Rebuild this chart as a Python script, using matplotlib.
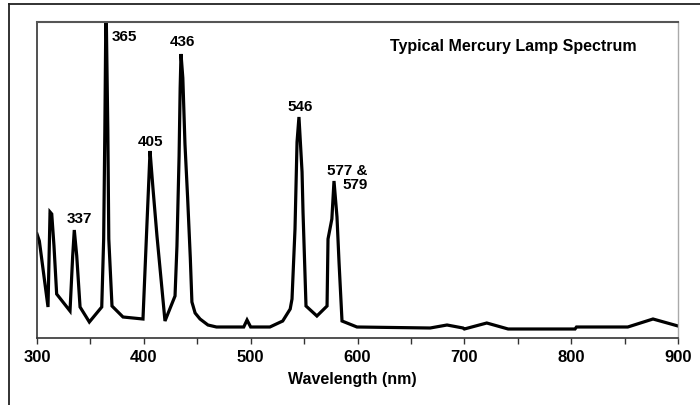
import matplotlib
matplotlib.use("Agg")
import matplotlib.pyplot as plt
from matplotlib.lines import Line2D

plt.rcParams['font.family'] = ['Liberation Sans', 'DejaVu Sans']

# Spectrum trace (wavelength nm, relative intensity)
wavelength = [300, 302.2, 310.3, 312.2, 313.8, 315.9, 318.4, 330.9, 333.4, 334.9,
              337.2, 340.3, 349, 360.6, 362.4, 363.5, 364.6, 366.3, 367.2, 370.2,
              380.5, 399.2, 403.0, 404.8, 405.8, 408.6, 412.3, 419.8, 429.2, 431,
              433, 434, 434.8, 436.5, 438.5, 441, 443.5, 445, 448, 452.6,
              460, 468, 490, 493.5, 496.6, 500, 518, 530, 537, 538.7,
              541.5, 543.4, 545.2, 548.1, 549, 551.8, 562, 571.5, 572.4, 576,
              578, 580.8, 582.7, 585.5, 599.5, 668, 683.8, 698.8, 700, 721,
              741, 803.6, 805, 853, 876.6, 900]
intensity = [104, 97, 31, 126, 124, 92, 44, 27, 82, 108,
             82, 31, 16, 31, 99, 207, 340, 207, 99, 32,
             21, 19, 116, 161, 187, 149, 102, 17, 42, 92,
             182, 250, 284, 260, 194, 140, 80, 36, 25, 19,
             13, 11, 11, 11, 18, 11, 11, 17, 29, 39,
             109, 196, 221, 166, 126, 32, 22, 32, 99, 119,
             157, 121, 76, 17, 11, 10, 13, 10, 9, 15,
             9, 9, 11, 11, 19, 12]

peak_labels = ["337", "365", "405", "436", "546", "577 &\n579"]
peak_label_wl = [339.5, 370.2, 405.8, 436.5, 546, 609.5]
peak_label_y = [120, 302, 197, 297, 232, 161]
peak_label_ha = ["center", "left", "center", "center", "center", "right"]

title = "Typical Mercury Lamp Spectrum"
xlabel = "Wavelength (nm)"
xticks_major = [300, 400, 500, 600, 700, 800, 900]
xticks_all = list(range(300, 901, 50))

W, H = 700, 406
fig = plt.figure(figsize=(W / 100, H / 100), dpi=100)
fig.patch.set_facecolor("white")

# outer frame (left and top edges)
fig.add_artist(Line2D([9 / W, 9 / W], [0, 1 - 5 / H], transform=fig.transFigure,
                      color="#222222", lw=1.3))
fig.add_artist(Line2D([9 / W, 1], [1 - 5 / H, 1 - 5 / H], transform=fig.transFigure,
                      color="#222222", lw=1.3))

ax = fig.add_axes([37 / W, (H - 339) / H, 641 / W, 316 / H])
ax.plot(wavelength, intensity, color="black", lw=2.3, solid_joinstyle="miter")
ax.set_xlim(300, 900)
ax.set_ylim(0, 316)
ax.set_yticks([])
ax.set_xticks(xticks_all)
ax.set_xticklabels([str(t) if t in xticks_major else "" for t in xticks_all],
                   fontsize=12, fontweight="bold")
ax.tick_params(axis="x", direction="out", length=4, width=1, pad=4, color="#333333")
for s in ["left", "bottom"]:
    ax.spines[s].set_color("#333333")
    ax.spines[s].set_linewidth(1.2)
ax.spines["top"].set_color("#555555")
ax.spines["top"].set_linewidth(1.5)
ax.spines["right"].set_color("#aaaaaa")
ax.spines["right"].set_linewidth(1.0)

for lab, xw, yv, ha in zip(peak_labels, peak_label_wl, peak_label_y, peak_label_ha):
    ax.text(xw, yv, lab, ha=ha, va="center", fontsize=11, fontweight="bold",
            linespacing=1.05, multialignment="right")

fig.text(513 / W, 1 - 47 / H, title, ha="center", va="center",
         fontsize=11.5, fontweight="bold")
fig.text(352 / W, 1 - 380 / H, xlabel, ha="center", va="center",
         fontsize=11.5, fontweight="bold")

fig.savefig("out.png", dpi=100, facecolor="white")
